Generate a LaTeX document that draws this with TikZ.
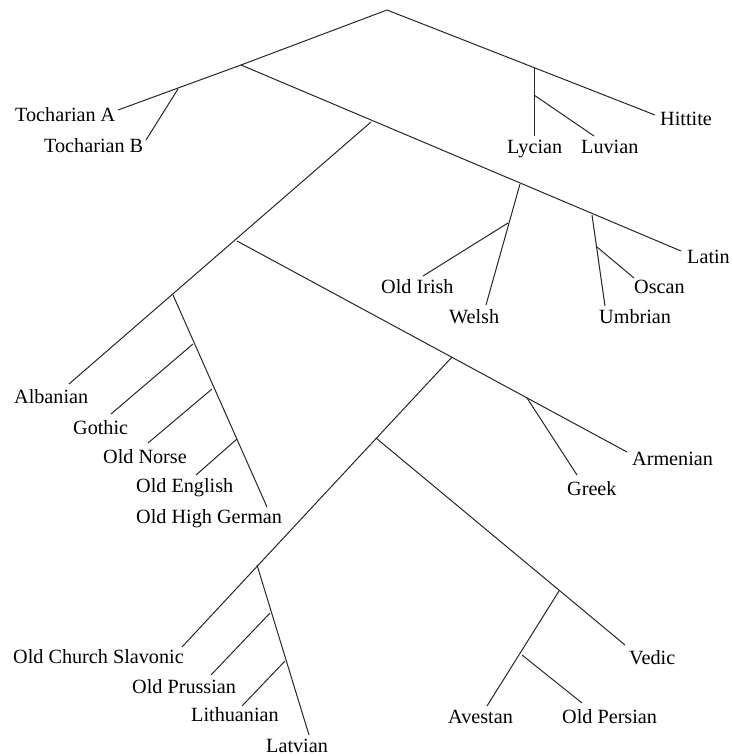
\documentclass[tikz,border=0pt]{standalone}
\usepackage{fontspec}
\setmainfont{Liberation Serif}
\begin{document}
\begin{tikzpicture}[x=1pt,y=-1pt,
  lang/.style={anchor=base west,inner sep=0pt,font=\fontsize{20.2}{23}\selectfont},
  br/.style={line width=1pt,draw=black!85}]
\useasboundingbox (0,0) rectangle (733,756);
% coordinates
\coordinate (root) at (387,10);
\coordinate (hitE) at (655,115);
\coordinate (anat) at (534,68);
\coordinate (lycE) at (534,136);
\coordinate (luvB) at (534,95);
\coordinate (luvE) at (594,136);
\coordinate (n1) at (241,65);
\coordinate (tochB) at (178,89);
\coordinate (tochAE) at (118,110);
\coordinate (tochBE) at (146,140);
\coordinate (latE) at (681,251);
\coordinate (n2) at (371,122);
\coordinate (celt) at (520,184);
\coordinate (irB) at (508,223);
\coordinate (irE) at (423,276);
\coordinate (weE) at (486,305);
\coordinate (ital) at (592,215);
\coordinate (osB) at (597,247);
\coordinate (osE) at (634,278);
\coordinate (umE) at (605,306);
\coordinate (n3) at (237,241);
\coordinate (n4) at (173,295);
\coordinate (albE) at (69,384);
\coordinate (goB) at (193,344);
\coordinate (goE) at (111,414);
\coordinate (noB) at (212,389);
\coordinate (noE) at (148,443);
\coordinate (enB) at (237,439);
\coordinate (enE) at (196,475);
\coordinate (ohgE) at (267,507);
\coordinate (n5) at (452,357);
\coordinate (grB) at (527,398);
\coordinate (grE) at (577,475);
\coordinate (arE) at (627,452);
\coordinate (n6) at (376,438);
\coordinate (bs) at (257,565);
\coordinate (ocsE) at (182,647);
\coordinate (prB) at (270,613);
\coordinate (prE) at (211,675);
\coordinate (liB) at (285,661);
\coordinate (liE) at (242,706);
\coordinate (lvE) at (309,735);
\coordinate (ii) at (559,591);
\coordinate (vedE) at (625,645);
\coordinate (irnB) at (522,655);
\coordinate (avE) at (487,706);
\coordinate (opE) at (582,703);
% labels
\node[lang] (tochA) at (15,121) {Tocharian A};
\node[lang] (tochBl) at (44,152) {Tocharian B};
\node[lang] (hit) at (660,125) {Hittite};
\node[lang] (lyc) at (507,153) {Lycian};
\node[lang] (luv) at (581,153) {Luvian};
\node[lang] (lat) at (687,263) {Latin};
\node[lang] (oir) at (381,293) {Old Irish};
\node[lang] (wel) at (449,323) {Welsh};
\node[lang] (osc) at (634,293) {Oscan};
\node[lang] (umb) at (599,323) {Umbrian};
\node[lang] (alb) at (14,403) {Albanian};
\node[lang] (got) at (73,434) {Gothic};
\node[lang] (ono) at (103,463) {Old Norse};
\node[lang] (oen) at (136,492) {Old English};
\node[lang] (ohg) at (136,523) {Old High German};
\node[lang] (arm) at (632,465) {Armenian};
\node[lang] (gre) at (567,495) {Greek};
\node[lang] (ocs) at (13,663) {Old Church Slavonic};
\node[lang] (opr) at (132,693) {Old Prussian};
\node[lang] (lit) at (191,721) {Lithuanian};
\node[lang] (lav) at (266,752) {Latvian};
\node[lang] (ved) at (629,664) {Vedic};
\node[lang] (ave) at (448,723) {Avestan};
\node[lang] (ope) at (562,723) {Old Persian};
% branches
\draw[br] (hitE) -- (root) -- (n1) -- (tochAE);
\draw[br] (anat) -- (lycE);
\draw[br] (luvB) -- (luvE);
\draw[br] (tochB) -- (tochBE);
\draw[br] (n1) -- (latE);
\draw[br] (celt) -- (weE);
\draw[br] (irB) -- (irE);
\draw[br] (ital) -- (umE);
\draw[br] (osB) -- (osE);
\draw[br] (n2) -- (albE);
\draw[br] (n4) -- (ohgE);
\draw[br] (goB) -- (goE);
\draw[br] (noB) -- (noE);
\draw[br] (enB) -- (enE);
\draw[br] (n3) -- (arE);
\draw[br] (grB) -- (grE);
\draw[br] (n5) -- (ocsE);
\draw[br] (bs) -- (lvE);
\draw[br] (prB) -- (prE);
\draw[br] (liB) -- (liE);
\draw[br] (n6) -- (vedE);
\draw[br] (ii) -- (avE);
\draw[br] (irnB) -- (opE);
\end{tikzpicture}
\end{document}
